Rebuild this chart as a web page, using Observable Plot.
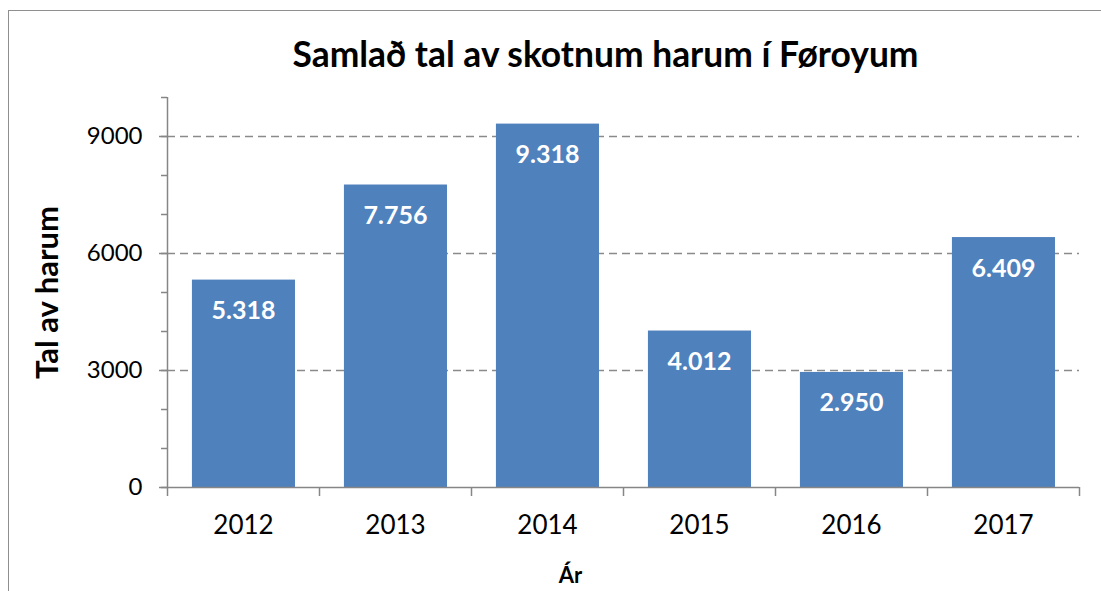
<!DOCTYPE html>
<html>
<head>
<meta charset="utf-8">
<script src="https://cdn.jsdelivr.net/npm/d3@7"></script>
<script src="https://cdn.jsdelivr.net/npm/@observablehq/plot@0.6"></script>
<style>
  html, body { margin: 0; padding: 0; background: #fff; overflow: hidden; }
  #wrap { position: relative; width: 1101px; height: 591px; }
  #border { position: absolute; left: 8px; top: 10px; width: 1200px; height: 700px; border: 1.5px solid #8f8f8f; box-sizing: border-box; }
  #chart { position: absolute; left: 0; top: 0; }
</style>
</head>
<body>
<div id="wrap"><div id="border"></div><div id="chart"></div></div>
<script>
const years = ["2012", "2013", "2014", "2015", "2016", "2017"];
const values = [5318, 7756, 9318, 4012, 2950, 6409];
const yTicks = [0, 3000, 6000, 9000];
const gridTicks = [3000, 6000, 9000];
const minorTicks = [0, 1000, 2000, 3000, 4000, 5000, 6000, 7000, 8000, 9000, 10000];
const title = "Samlað tal av skotnum harum í Føroyum";
const yLabel = "Tal av harum";
const xLabel = "Ár";

const data = years.map((y, i) => ({year: y, i, value: values[i]}));
const fmt = d3.formatLocale({decimal: ",", thousands: ".", grouping: [3]}).format(",d");
const font = "Lato, 'Open Sans', sans-serif";
const axisColor = "#868686";

const chart = Plot.plot({
  width: 1101,
  height: 591,
  marginLeft: 167,
  marginRight: 22,
  marginTop: 97,
  marginBottom: 104,
  style: {fontFamily: font, color: "#000", background: "transparent", overflow: "visible"},
  x: {domain: [0, years.length], axis: null},
  y: {domain: [0, 10000], axis: null},
  marks: [
    Plot.ruleY(gridTicks, {stroke: "#8a8a8a", strokeWidth: 1.3, strokeDasharray: "8,5"}),
    Plot.rectY(data, {x1: d => d.i + 0.164, x2: d => d.i + 0.842, y: "value", fill: "#4F81BD"}),
    Plot.text(data, {x: d => d.i + 0.5, y: "value", text: d => fmt(d.value), dy: 31, fill: "white", fontWeight: "bold", fontSize: 25}),
    Plot.ruleY([0], {stroke: axisColor, strokeWidth: 1.5}),
    Plot.ruleX([0], {y1: 0, y2: 10000, stroke: axisColor, strokeWidth: 1.5}),
    Plot.axisY({ticks: minorTicks, tickSize: 6, tickFormat: () => "", stroke: axisColor, strokeWidth: 1.5, label: null}),
    Plot.axisY({ticks: yTicks, tickSize: 8, tickPadding: 17, tickFormat: d => String(d), stroke: axisColor, strokeWidth: 1.5, fontSize: 24, fill: "#000", label: null}),
    Plot.axisX({ticks: d3.range(years.length + 1), tickSize: 9, tickFormat: () => "", stroke: axisColor, strokeWidth: 1.5, label: null}),
    Plot.axisX({ticks: years.map((y, i) => i + 0.5), tickSize: 0, tickPadding: 28, tickFormat: v => years[Math.floor(v)], fontSize: 26, fill: "#000", label: null}),
    Plot.text([title], {frameAnchor: "top", dx: -18, dy: -42, fontSize: 35.4, fontWeight: "bold", fill: "#000", lineAnchor: "middle"}),
    Plot.text([yLabel], {frameAnchor: "left", dx: -119, rotate: -90, textAnchor: "middle", fontSize: 31, fontWeight: "bold", fill: "#000", lineAnchor: "middle"}),
    Plot.text([xLabel], {frameAnchor: "bottom", dx: -53, dy: 88, fontSize: 22, fontWeight: "bold", fill: "#000", lineAnchor: "middle"})
  ]
});
document.getElementById("chart").appendChild(chart);
</script>
</body>
</html>
